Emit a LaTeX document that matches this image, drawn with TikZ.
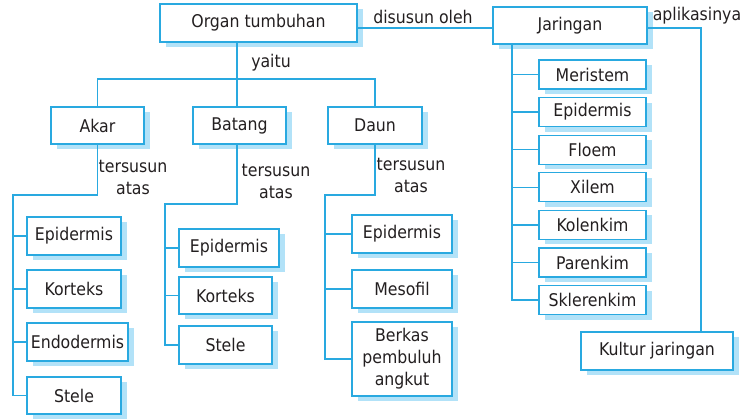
\documentclass[tikz,border=0pt]{standalone}
\usepackage{fontspec}
\setmainfont{DejaVu Sans Condensed}
\usetikzlibrary{shadows}
\definecolor{lineblue}{RGB}{41,169,224}
\definecolor{shadowblue}{RGB}{178,226,248}
\definecolor{txt}{RGB}{35,31,32}
\tikzset{
  box/.style={draw=lineblue, line width=1.3pt, fill=white, inner sep=0pt, align=center,
    text=txt, drop shadow={shadow xshift=6pt, shadow yshift=-5pt, fill=shadowblue, opacity=1}},
  conn/.style={draw=lineblue, line width=1.3pt},
  lbl/.style={text=txt, align=center, inner sep=0pt}
}
\begin{document}
\begin{tikzpicture}[x=1pt,y=-1pt,font=\fontsize{17.5}{22}\selectfont]
\useasboundingbox (0,0) rectangle (747,420);
% top level
\node[box, minimum width=197pt, minimum height=38pt] (organ) at (258.5,23) {Organ tumbuhan};
\node[box, minimum width=154pt, minimum height=37pt] (jar) at (570,25.5) {Jaringan};
\node[box, minimum width=152pt, minimum height=38pt] (kultur) at (657,351) {Kultur jaringan};
% organs
\node[box, minimum width=93pt, minimum height=37pt] (akar) at (97.5,125.5) {Akar};
\node[box, minimum width=93pt, minimum height=37pt] (batang) at (239.5,125.5) {Batang};
\node[box, minimum width=94pt, minimum height=37pt] (daun) at (375,125.5) {Daun};
% akar children
\node[box, minimum width=94pt, minimum height=38pt] (a1) at (74,236) {Epidermis};
\node[box, minimum width=94pt, minimum height=38pt] (a2) at (74,289) {Korteks};
\node[box, minimum width=101pt, minimum height=38pt] (a3) at (77.5,342) {Endodermis};
\node[box, minimum width=94pt, minimum height=37pt] (a4) at (74,395.5) {Stele};
% batang children
\node[box, minimum width=100pt, minimum height=38pt] (b1) at (229,248) {Epidermis};
\node[box, minimum width=93pt, minimum height=37pt] (b2) at (225.5,295.5) {Korteks};
\node[box, minimum width=93pt, minimum height=38pt] (b3) at (225.5,345) {Stele};
% daun children
\node[box, minimum width=100pt, minimum height=38pt] (d1) at (402,234) {Epidermis};
\node[box, minimum width=100pt, minimum height=38pt] (d2) at (402,289) {Mesofil};
\node[box, minimum width=100pt, minimum height=74pt] (d3) at (402,359) {Berkas\\pembuluh\\angkut};
% jaringan children
\foreach \n/\t [count=\i from 0] in {j1/Meristem,j2/Epidermis,j3/Floem,j4/Xilem,j5/Kolenkim,j6/Parenkim,j7/Sklerenkim}
  \node[box, minimum width=107pt, minimum height=29pt] (\n) at (592.5,74.5+37.6*\i) {\t};
% coordinates
\coordinate (hb) at (237,79);
\coordinate (jl) at (0,28);
\coordinate (ak) at (13,195);
\coordinate (bk) at (165,204);
\coordinate (dk) at (325,195);
\coordinate (jk) at (512,0);
\coordinate (kx) at (701,0);
% connectors
\draw[conn] (organ.south -| hb) -- (hb);
\draw[conn] (akar.north) -- (akar.north |- hb) -| (daun.north);
\draw[conn] (hb) -- (batang.north -| hb);
\draw[conn] (organ.east |- jl) -- (jar.west |- jl);
\draw[conn] (jar.east |- jl) -| (kultur.north -| kx);
\draw[conn] (akar.south) |- (ak) |- (a4.west);
\foreach \n in {a1,a2,a3} \draw[conn] (\n.west -| ak) -- (\n.west);
\draw[conn] (batang.south -| hb) |- (bk) |- (b3.west);
\foreach \n in {b1,b2} \draw[conn] (\n.west -| bk) -- (\n.west);
\draw[conn] (daun.south -| daun.north) |- (dk) |- (d3.west);
\foreach \n in {d1,d2} \draw[conn] (\n.west -| dk) -- (\n.west);
\draw[conn] (jar.south -| jk) |- (j7.west);
\foreach \n in {j1,j2,j3,j4,j5,j6} \draw[conn] (\n.west -| jk) -- (\n.west);
% labels
\node[lbl] (yaitu) at (271,63) {yaitu};
\node[lbl] (disusun) at (423,17) {disusun oleh};
\node[lbl] (aplik) at (697,16) {aplikasinya};
\node[lbl] (ta1) at (133,177) {tersusun\\atas};
\node[lbl] (ta2) at (276,181) {tersusun\\atas};
\node[lbl] (ta3) at (411,175) {tersusun\\atas};
\end{tikzpicture}
\end{document}
